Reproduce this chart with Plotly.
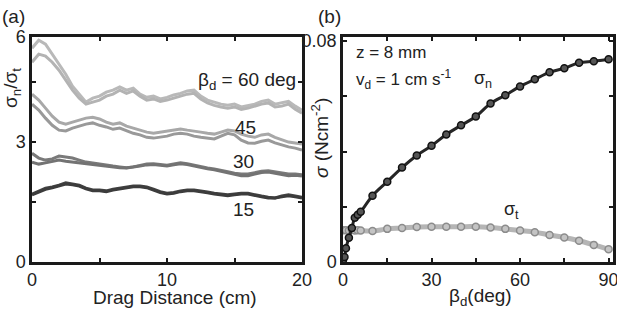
import plotly.graph_objects as go

# ---------------- data ----------------
drag_cm = [0, 0.5, 1, 1.5, 2, 2.5, 3, 3.5, 4, 4.5, 5, 5.5, 6, 6.5, 7, 7.5, 8, 8.5, 9, 9.5,
           10, 10.5, 11, 11.5, 12, 12.5, 13, 13.5, 14, 14.5, 15, 15.5, 16, 16.5, 17, 17.5,
           18, 18.5, 19, 19.5, 20]

ratio_60a = [5.35, 5.55, 5.45, 5.2, 4.95, 4.7, 4.4, 4.2, 4.0, 4.1, 4.15, 4.25, 4.3, 4.38, 4.3,
             4.35, 4.2, 4.12, 4.15, 4.08, 4.12, 4.18, 4.22, 4.28, 4.3, 4.15, 4.05, 4.0, 3.95,
             3.92, 3.95, 3.88, 3.92, 3.95, 4.02, 4.05, 3.95, 3.98, 4.02, 3.9, 3.8]
ratio_60b = [5.0, 5.2, 5.15, 5.0, 4.8, 4.55, 4.3, 4.1, 3.95, 4.0, 4.05, 4.15, 4.2, 4.3, 4.22,
             4.28, 4.15, 4.05, 4.08, 4.02, 4.05, 4.1, 4.15, 4.2, 4.22, 4.08, 3.98, 3.92, 3.88,
             3.85, 3.88, 3.82, 3.85, 3.9, 3.95, 3.98, 3.88, 3.9, 3.95, 3.82, 3.72]
ratio_45a = [4.2, 4.05, 3.85, 3.65, 3.5, 3.45, 3.5, 3.55, 3.6, 3.62, 3.58, 3.5, 3.45, 3.48, 3.4,
             3.35, 3.3, 3.25, 3.22, 3.25, 3.28, 3.3, 3.33, 3.3, 3.28, 3.25, 3.22, 3.2, 3.25,
             3.3, 3.28, 3.2, 3.15, 3.12, 3.18, 3.2, 3.12, 3.05, 3.0, 2.98, 2.95]
ratio_45b = [3.95, 3.8, 3.6, 3.42, 3.3, 3.28, 3.35, 3.4, 3.45, 3.48, 3.42, 3.38, 3.32, 3.35, 3.28,
             3.22, 3.18, 3.12, 3.1, 3.12, 3.15, 3.2, 3.22, 3.2, 3.15, 3.12, 3.1, 3.08, 3.15,
             3.22, 3.18, 3.05, 2.98, 2.97, 3.02, 3.05, 2.98, 2.92, 2.88, 2.85, 2.8]
ratio_30a = [2.72, 2.6, 2.55, 2.58, 2.65, 2.62, 2.6, 2.55, 2.5, 2.48, 2.45, 2.42, 2.4, 2.38, 2.36,
             2.38, 2.42, 2.45, 2.46, 2.44, 2.42, 2.45, 2.48, 2.46, 2.42, 2.38, 2.35, 2.33, 2.3,
             2.26, 2.22, 2.2, 2.2, 2.24, 2.27, 2.28, 2.25, 2.22, 2.2, 2.2, 2.18]
ratio_30b = [2.5, 2.45, 2.48, 2.52, 2.55, 2.52, 2.5, 2.48, 2.45, 2.43, 2.42, 2.4, 2.38, 2.36, 2.35,
             2.37, 2.4, 2.43, 2.44, 2.42, 2.4, 2.43, 2.46, 2.44, 2.4, 2.36, 2.33, 2.31, 2.27,
             2.23, 2.19, 2.16, 2.16, 2.2, 2.24, 2.25, 2.22, 2.19, 2.16, 2.17, 2.15]
ratio_15a = [1.7, 1.78, 1.85, 1.88, 1.92, 1.98, 1.95, 1.92, 1.85, 1.8, 1.8, 1.78, 1.82, 1.85, 1.88,
             1.9, 1.9, 1.88, 1.82, 1.76, 1.72, 1.74, 1.78, 1.8, 1.8, 1.78, 1.75, 1.72, 1.7,
             1.68, 1.7, 1.72, 1.72, 1.68, 1.65, 1.62, 1.6, 1.65, 1.68, 1.65, 1.62]
ratio_15b = [1.68, 1.75, 1.82, 1.86, 1.9, 1.95, 1.93, 1.9, 1.83, 1.78, 1.78, 1.76, 1.8, 1.83, 1.86,
             1.88, 1.88, 1.86, 1.8, 1.74, 1.7, 1.72, 1.76, 1.78, 1.78, 1.76, 1.73, 1.7, 1.68,
             1.66, 1.68, 1.7, 1.7, 1.66, 1.63, 1.6, 1.6, 1.63, 1.66, 1.63, 1.6]

beta_n = [0, 0.5, 1, 2, 3, 4, 5, 6, 10, 15, 20, 25, 30, 35, 40, 45, 50, 55, 60, 65, 70, 75, 80, 85, 90]
sigma_n = [0.0007, 0.0018, 0.005, 0.0088, 0.0123, 0.016, 0.0171, 0.0182, 0.024, 0.0291, 0.0342,
           0.0386, 0.0421, 0.0462, 0.0495, 0.0527, 0.0574, 0.0604, 0.0636, 0.0662, 0.0687,
           0.0702, 0.0722, 0.0727, 0.0734]
beta_t = [0, 1, 2, 3, 4, 5, 6, 10, 15, 20, 25, 30, 35, 40, 45, 50, 55, 60, 65, 70, 75, 80, 85, 90]
sigma_t = [0.0115, 0.0115, 0.0114, 0.0116, 0.0114, 0.0115, 0.0114, 0.0112, 0.012, 0.0123, 0.0127,
           0.0128, 0.0128, 0.0128, 0.0128, 0.0125, 0.012, 0.0114, 0.0108, 0.0098, 0.0089,
           0.0077, 0.0062, 0.0046]

ratio_ticks = [0, 1.5, 3, 4.5, 5.63]
ratio_ticktext = ["0", "", "3", "", "6"]
drag_ticks = [0, 5, 10, 15, 20]
drag_ticktext = ["0", "", "10", "", "20"]
beta_ticks = [0, 15, 30, 45, 60, 75, 90]
beta_ticktext = ["0", "", "30", "", "60", "", "90"]
sigma_ticks = [0, 0.02, 0.04, 0.06, 0.08]
sigma_ticktext = ["0", "", "", "", "0.08"]

# ---------------- figure ----------------
FONT = "Liberation Sans, Arial, sans-serif"
fig = go.Figure()

left_series = [
    (ratio_60a, "#b9b9b9"), (ratio_60b, "#b3b3b3"),
    (ratio_45a, "#a8a8a8"), (ratio_45b, "#999999"),
    (ratio_30a, "#7a7a7a"), (ratio_30b, "#737373"),
    (ratio_15a, "#444444"), (ratio_15b, "#3c3c3c"),
]
for ys, col in left_series:
    fig.add_trace(go.Scatter(x=drag_cm, y=ys, mode="lines", line=dict(color=col, width=3),
                             xaxis="x", yaxis="y", showlegend=False, hoverinfo="skip"))

fig.add_trace(go.Scatter(x=beta_t, y=sigma_t, mode="lines+markers",
                         line=dict(color="#b5b5b5", width=5, shape="spline"),
                         marker=dict(symbol="circle", size=7, color="#c4c4c4",
                                     line=dict(color="#8c8c8c", width=1.5)),
                         xaxis="x2", yaxis="y2", showlegend=False))
fig.add_trace(go.Scatter(x=beta_n, y=sigma_n, mode="lines+markers",
                         line=dict(color="#262626", width=3, shape="spline"),
                         marker=dict(symbol="circle", size=7, color="#555555",
                                     line=dict(color="#111111", width=1.5)),
                         xaxis="x2", yaxis="y2", showlegend=False))

axis_common = dict(showline=True, linecolor="#1a1a1a", linewidth=2.5, mirror="ticks",
                   ticks="inside", ticklen=4, tickwidth=2, tickcolor="#1a1a1a",
                   showgrid=False, zeroline=False, automargin=False,
                   ticklabeloverflow="allow",
                   tickfont=dict(family=FONT, size=18, color="#222"),
                   tickmode="array")

fig.update_layout(
    template="none",
    width=617, height=313, autosize=False,
    margin=dict(l=0, r=0, t=0, b=0, pad=0, autoexpand=False),
    paper_bgcolor="white", plot_bgcolor="white",
    font=dict(family=FONT, color="#222"),
    xaxis=dict(axis_common, domain=[32 / 617, 302 / 617], range=[0, 20],
               tickvals=drag_ticks, ticktext=drag_ticktext, anchor="y"),
    yaxis=dict(axis_common, domain=[1 - 262 / 313, 1 - 37 / 313], range=[0, 5.63],
               tickvals=ratio_ticks, ticktext=ratio_ticktext, anchor="x"),
    xaxis2=dict(axis_common, domain=[343 / 617, 613 / 617], range=[0, 91.5],
                tickvals=beta_ticks, ticktext=beta_ticktext, anchor="y2"),
    yaxis2=dict(axis_common, domain=[1 - 262 / 313, 1 - 37 / 313], range=[0, 0.0815],
                tickvals=sigma_ticks, ticktext=sigma_ticktext, anchor="x2"),
)

ann = []
def A(text, x, y, xref, yref, size=18, xanchor="center", **kw):
    d = dict(text=text, x=x, y=y, xref=xref, yref=yref, showarrow=False,
             xanchor=xanchor, yanchor="middle",
             font=dict(family=FONT, size=size, color="#222"))
    d.update(kw)
    ann.append(d)

# panel labels
A("(a)", 13 / 617, 1 - 16 / 313, "paper", "paper", size=19)
A("(b)", 329 / 617, 1 - 16 / 313, "paper", "paper", size=19)
# axis titles
A("Drag Distance (cm)", 175 / 617, 1 - 297 / 313, "paper", "paper", size=19)
A("β<sub>d</sub>(deg)", 481 / 617, 1 - 297 / 313, "paper", "paper", size=19)
A("σ<sub>n</sub>/σ<sub>t</sub>", 12 / 617, 1 - 88 / 313, "paper", "paper", size=19, textangle=-90)
A("<i>σ</i> (Ncm<sup>-2</sup>)", 320 / 617, 1 - 138 / 313, "paper", "paper", size=19, textangle=-90)
# left panel labels
A("β<sub>d</sub> = 60 deg", 15.9, 4.52, "x", "y", size=19)
A("45", 15.8, 3.37, "x", "y", size=19)
A("30", 15.7, 2.51, "x", "y", size=19)
A("15", 15.7, 1.31, "x", "y", size=19)
# right panel labels
A("z = 8 mm", 3.8, 0.076, "x2", "y2", size=17, xanchor="left")
A("v<sub>d</sub> = 1 cm s<sup>-1</sup>", 3.8, 0.066, "x2", "y2", size=17, xanchor="left")
A("σ<sub>n</sub>", 47.5, 0.066, "x2", "y2", size=18)
A("σ<sub>t</sub>", 57, 0.0185, "x2", "y2", size=18)

fig.update_layout(annotations=ann)
fig.write_html("out.html", config={"displayModeBar": False},
               post_script="document.body.style.margin='0px';document.body.style.padding='0px';")
